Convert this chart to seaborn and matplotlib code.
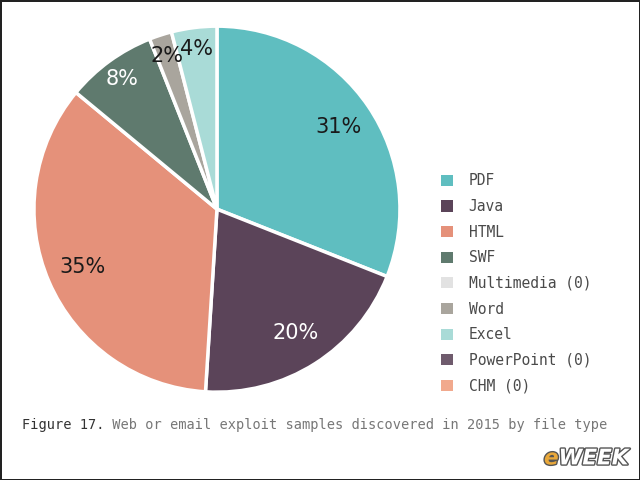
import matplotlib
matplotlib.use("Agg")
import matplotlib.pyplot as plt
import matplotlib.patches as mpatches
import matplotlib.patheffects as pe
import numpy as np
import seaborn as sns

# data (share of samples, percent)
categories = ["PDF", "Java", "HTML", "SWF", "Multimedia (0)", "Word",
              "Excel", "PowerPoint (0)", "CHM (0)"]
shares = [31, 20, 35, 8, 0, 2, 4, 0, 0]
colors = ["#5fbec0", "#5b4459", "#e5917a", "#5f7a6e", "#e2e2e2",
          "#a9a59d", "#a9dbd7", "#6f5b6d", "#f1a98d"]
label_colors = {"PDF": "#1a1a1a", "Java": "white", "HTML": "#1a1a1a",
                "SWF": "white", "Word": "#1a1a1a", "Excel": "#1a1a1a"}

sns.set_theme(style="white")
plt.rcParams["font.family"] = ["DejaVu Sans"]

fig = plt.figure(figsize=(6.4, 4.8), dpi=100)
fig.patch.set_facecolor("white")
fig.patch.set_edgecolor("#222222")
fig.patch.set_linewidth(2)

ax = fig.add_axes([0.053, 0.183, 0.572, 0.7625])

idx = [i for i, v in enumerate(shares) if v > 0]
vals = [shares[i] for i in idx]
wedges, texts = ax.pie(vals, colors=[colors[i] for i in idx],
                       startangle=90, counterclock=False, radius=1,
                       wedgeprops=dict(edgecolor="white", linewidth=2.5))
ax.set_xlim(-1, 1)
ax.set_ylim(-1, 1)
ax.set_aspect("equal")
ax.axis("off")

for w, i in zip(wedges, idx):
    mid = np.deg2rad((w.theta1 + w.theta2) / 2)
    r = 0.8 if shares[i] >= 15 else 0.88
    ax.text(r * np.cos(mid), r * np.sin(mid), f"{shares[i]}%",
            ha="center", va="center", fontsize=15,
            color=label_colors[categories[i]])

handles = [mpatches.Patch(facecolor=c, edgecolor="none") for c in colors]
fig.legend(handles, categories, loc="upper left",
           bbox_to_anchor=(0.68, 0.651), frameon=False,
           prop=dict(family="DejaVu Sans Mono", size=10.5),
           labelcolor="#4a4a4a", handlelength=0.8, handleheight=0.8,
           handletextpad=1.1, labelspacing=0.73, borderaxespad=0)

cap1 = fig.text(0.034, 0.115, "Figure 17.", fontsize=9.8,
                family="DejaVu Sans Mono", color="#333333", va="center")
ax.annotate(" Web or email exploit samples discovered in 2015 by file type",
            xy=(1, 0.5), xycoords=cap1, va="center", ha="left",
            fontsize=9.8, family="DejaVu Sans Mono", color="#777777",
            annotation_clip=False)

# watermark
wm = fig.text(0.85, 0.045, "e", fontsize=15.5, fontweight="bold",
              fontstyle="italic", color="#e9a83a", ha="left", va="center",
              path_effects=[pe.withStroke(linewidth=2, foreground="#555555")])
ax.annotate("WEEK", xy=(1, 0.5), xycoords=wm, va="center", ha="left",
            fontsize=15.5, fontweight="bold", fontstyle="italic",
            color="white", annotation_clip=False,
            path_effects=[pe.withStroke(linewidth=2, foreground="#555555")])

fig.savefig("out.png", dpi=100)
